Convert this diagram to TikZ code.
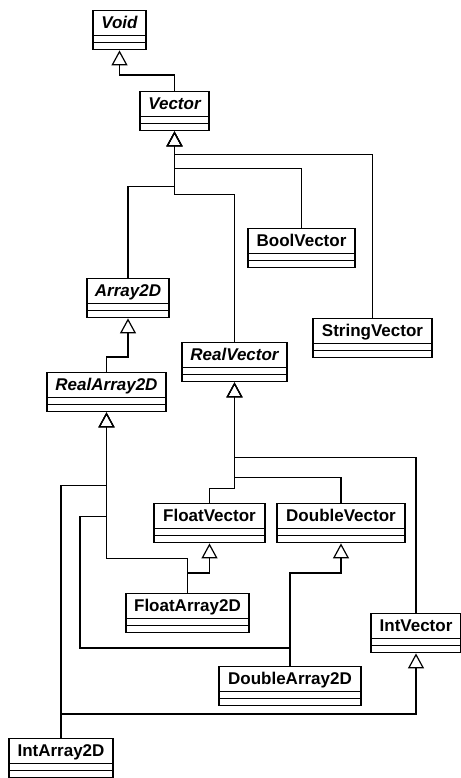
\documentclass[tikz,border=0pt]{standalone}
\usepackage{fontspec}
\setmainfont{Liberation Sans}
\usetikzlibrary{arrows.meta}

\tikzset{
  cls/.style={draw, line width=1.4pt, anchor=north, inner xsep=0pt, inner ysep=0pt,
    minimum height=39pt, text height=18pt, text depth=21pt,
    font={\fontsize{17}{18}\selectfont\bfseries},
    path picture={
      \draw[line width=1.4pt]
        ([yshift=-25pt]path picture bounding box.north west) -- ([yshift=-25pt]path picture bounding box.north east)
        ([yshift=-32pt]path picture bounding box.north west) -- ([yshift=-32pt]path picture bounding box.north east);
    }},
  abscls/.style={cls, font={\fontsize{17}{18}\selectfont\bfseries\itshape}},
  inherit/.style={line width=1.2pt, -{Triangle[open, length=15pt, width=16pt, line width=1.2pt]}},
}

\begin{document}
\begin{tikzpicture}[x=1pt, y=-1pt]
            \useasboundingbox (0,0) rectangle (460,778);

            % Abstract classes
            \node (void) at (119.5, 10) [abscls, minimum width=53pt] {Void};
            \node (vector) at (174.5, 91) [abscls, minimum width=69pt] {Vector};
            \node (array) at (128, 278) [abscls, minimum width=82pt] {Array2D};
            \node (realv) at (234.5, 342) [abscls, minimum width=105pt] {RealVector};
            \node (realarr) at (106.5, 372) [abscls, minimum width=119pt] {RealArray2D};

            % Vectors
            \node (boolv) at (301.5, 228) [cls, minimum width=107pt] {BoolVector};
            \node (stringv) at (372.5, 318) [cls, minimum width=119pt] {StringVector};
            \node (fltv) at (209.5, 503) [cls, minimum width=111pt] {FloatVector};
            \node (dblv) at (341, 503) [cls, minimum width=128pt] {DoubleVector};
            \node (intv) at (416, 613) [cls, minimum width=90pt] {IntVector};

            % Arrays
            \node (fltarr) at (187.5, 593) [cls, minimum width=123pt] {FloatArray2D};
            \node (dblarr) at (290, 666) [cls, minimum width=142pt] {DoubleArray2D};
            \node (intarr) at (61, 738) [cls, minimum width=104pt] {IntArray2D};

            \draw[inherit] (vector.north) -- ++(0,-16) -| (void.south);

            % Children of Vector
            \draw[inherit] (stringv.north) |- ([yshift=-23pt]vector.south) -- (vector.south);
            \draw[inherit] (boolv.north) |- ([yshift=-37pt]vector.south) -- (vector.south);
            \draw[inherit] (array.north) |- ([yshift=-55pt]vector.south) -- (vector.south);
            \draw[inherit] (realv.north) |- ([yshift=-63pt]vector.south) -- (vector.south);

            \draw[inherit] (realarr.north) -- ++(0,-15) -| (array.south);

            % Children of RealVector
            \draw[inherit] (intv.north) |- ([yshift=-75pt]realv.south) -- (realv.south);
            \draw[inherit] (dblv.north) |- ([yshift=-95pt]realv.south) -- (realv.south);
            \draw[inherit] (fltv.north) |- ([yshift=-106pt]realv.south) -- (realv.south);

            % Children of RealArray2D
            \draw[inherit] (intarr.north) |- ([yshift=-73pt]realarr.south) -- (realarr.south);
            \draw[inherit] (dblarr.north) -- ++(0,-18) -| ([xshift=-26.5pt, yshift=-104pt]realarr.south) -| (realarr.south);
            \draw[inherit] (fltarr.north) |- ([yshift=-146pt]realarr.south) -- (realarr.south);

            % Arrays to vectors
            \draw[inherit] (fltarr.north) -- ++(0,-20) -| (fltv.south);
            \draw[inherit] (dblarr.north) -- ++(0,-93) -| (dblv.south);
            \draw[inherit] (intarr.north) -- ++(0,-24) -| (intv.south);
        \end{tikzpicture}
\end{document}
